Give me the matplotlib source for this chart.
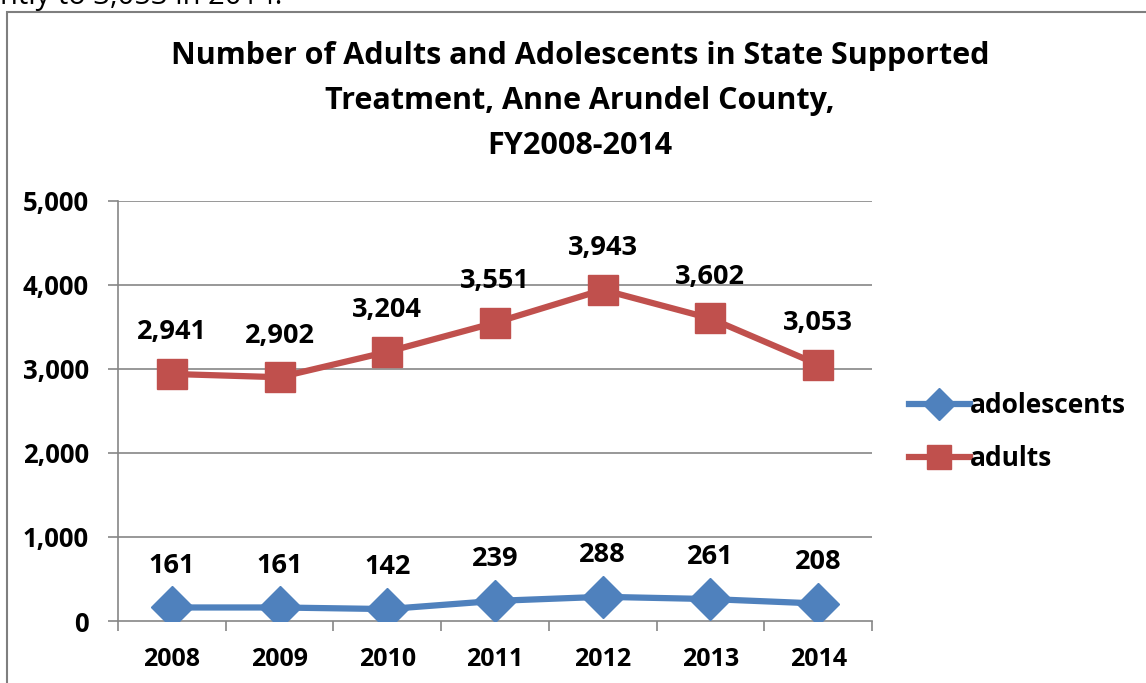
import numpy as np
import matplotlib.pyplot as plt
from matplotlib.patches import Rectangle

plt.rcParams['font.family'] = ['Open Sans', 'DejaVu Sans']

years = ['2008', '2009', '2010', '2011', '2012', '2013', '2014']
adolescents = [161, 161, 142, 239, 288, 261, 208]
adults = [2941, 2902, 3204, 3551, 3943, 3602, 3053]
yticks = [0, 1000, 2000, 3000, 4000, 5000]

blue = '#4F81BD'
red = '#C0504D'
grid = '#868686'

fig = plt.figure(figsize=(11.46, 6.83), dpi=100)

# sentence from the page above the chart, cut off by the top edge
fig.text(0.0, 1 - 4 / 683, 'ntly to 3,053 in 2014.', fontsize=21,
         ha='left', va='baseline', color='black')

# chart frame
fig.patches.append(Rectangle((7 / 1146, -0.1), 1.2, 1 - 12 / 683 + 0.1,
                             transform=fig.transFigure, fill=False,
                             edgecolor='#7f7f7f', linewidth=1.5))

ax = fig.add_axes([118 / 1146, 62 / 683, 754 / 1146, 420 / 683])
x = np.arange(len(years))

ax.plot(x, adolescents, color=blue, lw=4.5, marker='D', markersize=21,
        markerfacecolor=blue, markeredgecolor=blue, label='adolescents',
        solid_joinstyle='round', zorder=3)
ax.plot(x, adults, color=red, lw=4.5, marker='s', markersize=22,
        markerfacecolor=red, markeredgecolor=red, label='adults',
        solid_joinstyle='round', zorder=3)

for xi, v in zip(x, adolescents):
    ax.annotate(f'{v:,}', (xi, v), xytext=(0, 30), textcoords='offset points',
                ha='center', va='center', fontsize=19.5, fontweight='bold')
for xi, v in zip(x, adults):
    ax.annotate(f'{v:,}', (xi, v), xytext=(0, 30), textcoords='offset points',
                ha='center', va='center', fontsize=19.5, fontweight='bold')

ax.set_xlim(-0.5, len(years) - 0.5)
ax.set_ylim(0, 5000)
ax.set_yticks(yticks)
ax.set_yticklabels([f'{t:,}' for t in yticks], fontsize=18.5, fontweight='bold')
ax.set_xticks(x)
ax.set_xticklabels(years, fontsize=18, fontweight='bold')
ax.set_xticks(np.arange(-0.5, len(years)), minor=True)
ax.tick_params(axis='x', which='major', length=0, pad=19)
ax.tick_params(axis='x', which='minor', length=7, width=1.2, color=grid)
ax.tick_params(axis='y', length=7, width=1.2, color=grid, pad=14)

for t in yticks[1:]:
    ax.axhline(t, color=grid, lw=1.2, zorder=1)
for s in ['top', 'right']:
    ax.spines[s].set_visible(False)
for s in ['left', 'bottom']:
    ax.spines[s].set_color(grid)
    ax.spines[s].set_linewidth(1.2)

fig.text(580 / 1146, 1 - 101 / 683,
         'Number of Adults and Adolescents in State Supported\n'
         'Treatment, Anne Arundel County,\nFY2008-2014',
         ha='center', va='center', fontsize=22, fontweight='bold',
         linespacing=1.65)

leg = ax.legend(loc='center left', bbox_to_anchor=(1.035, 0.45), frameon=False,
                prop={'size': 19, 'weight': 'bold'}, handlelength=2.3,
                handletextpad=0.0, labelspacing=1.0, markerscale=0.8,
                borderaxespad=0)

fig.savefig('out.png', dpi=100)
